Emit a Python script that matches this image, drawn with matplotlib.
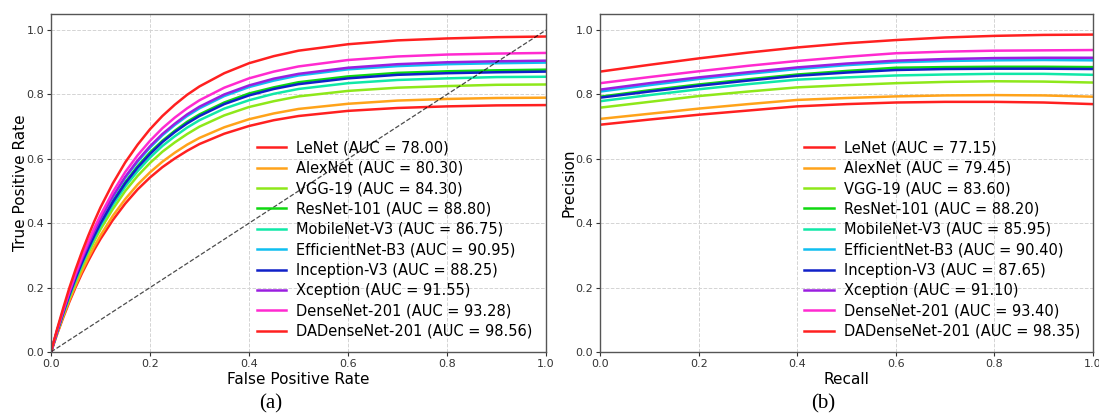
import matplotlib
matplotlib.use("Agg")
import matplotlib.pyplot as plt

models = ["LeNet", "AlexNet", "VGG-19", "ResNet-101", "MobileNet-V3",
          "EfficientNet-B3", "Inception-V3", "Xception", "DenseNet-201",
          "DADenseNet-201"]
roc_auc = ["78.00", "80.30", "84.30", "88.80", "86.75", "90.95", "88.25",
           "91.55", "93.28", "98.56"]
pr_auc = ["77.15", "79.45", "83.60", "88.20", "85.95", "90.40", "87.65",
          "91.10", "93.40", "98.35"]
colors = ["#ff2020", "#ffa31a", "#8ee81a", "#10d810", "#10e8a8",
          "#10bff0", "#1020c8", "#9a1ee0", "#ff2ad0", "#ff2020"]

# ROC curves
fpr = [0, .0125, .025, .0375, .05, .0625, .075, .0875, .1, .125, .15, .175,
       .2, .225, .25, .275, .3, .35, .4, .45, .5, .6, .7, .8, .9, 1.0]
tpr = [
    [0, .056, .108, .157, .202, .244, .282, .318, .351, .410, .461, .505, .542,
     .574, .601, .625, .646, .678, .702, .720, .733, .749, .758, .763, .766, .767],
    [0, .058, .112, .162, .208, .251, .291, .328, .362, .423, .475, .520, .558,
     .591, .619, .644, .665, .698, .723, .741, .755, .771, .781, .786, .789, .790],
    [0, .061, .117, .170, .219, .264, .306, .345, .381, .444, .500, .547, .587,
     .622, .651, .677, .700, .735, .761, .779, .794, .811, .821, .826, .830, .831],
    [0, .065, .124, .180, .231, .279, .323, .364, .402, .469, .527, .577, .620,
     .656, .687, .715, .738, .775, .803, .822, .838, .856, .867, .872, .875, .877],
    [0, .063, .121, .175, .225, .272, .315, .354, .392, .457, .514, .562, .604,
     .640, .670, .697, .720, .756, .782, .802, .817, .835, .845, .850, .854, .855],
    [0, .066, .127, .184, .237, .286, .331, .373, .412, .481, .541, .591, .635,
     .673, .705, .733, .757, .795, .823, .843, .859, .878, .888, .894, .897, .899],
    [0, .064, .123, .179, .230, .277, .320, .361, .399, .466, .524, .573, .615,
     .652, .683, .710, .733, .770, .797, .817, .832, .850, .861, .866, .869, .871],
    [0, .067, .128, .185, .239, .288, .333, .375, .414, .484, .544, .595, .639,
     .677, .709, .738, .762, .800, .828, .849, .864, .883, .894, .900, .903, .905],
    [0, .068, .131, .190, .245, .295, .342, .385, .425, .497, .559, .611, .656,
     .695, .728, .757, .782, .821, .850, .871, .887, .907, .918, .924, .927, .929],
    [0, .072, .138, .201, .258, .311, .360, .406, .449, .524, .589, .644, .692,
     .733, .768, .799, .825, .866, .897, .919, .936, .956, .968, .974, .978, .980],
]

# precision-recall curves
recall = [0, 0.1, 0.2, 0.3, 0.4, 0.5, 0.6, 0.7, 0.8, 0.9, 1.0]
precision = [
    [.706, .722, .737, .750, .763, .770, .775, .777, .777, .775, .770],
    [.724, .740, .756, .770, .783, .789, .794, .797, .798, .797, .793],
    [.759, .777, .795, .809, .822, .829, .835, .839, .841, .840, .837],
    [.793, .813, .831, .847, .862, .873, .883, .885, .886, .886, .885],
    [.779, .798, .816, .832, .846, .853, .859, .862, .864, .864, .861],
    [.809, .829, .848, .864, .879, .891, .900, .904, .906, .907, .906],
    [.790, .809, .827, .843, .858, .868, .876, .879, .880, .880, .879],
    [.815, .835, .853, .869, .884, .896, .905, .910, .913, .914, .914],
    [.835, .854, .872, .889, .904, .917, .928, .933, .936, .937, .938],
    [.871, .892, .912, .930, .946, .959, .969, .977, .982, .985, .986],
]

fig = plt.figure(figsize=(10.99, 4.2), dpi=100)
ax1 = fig.add_axes([0.0464, 0.162, 0.4504, 0.8047])
ax2 = fig.add_axes([0.546, 0.162, 0.4485, 0.8047])


def style(ax, xlabel, ylabel):
    ax.set_xlim(0, 1)
    ax.set_ylim(0, 1.05)
    ax.set_xticks([0, 0.2, 0.4, 0.6, 0.8, 1.0])
    ax.set_yticks([0, 0.2, 0.4, 0.6, 0.8, 1.0])
    ax.tick_params(labelsize=8, colors="#333333", length=3, width=0.8, pad=2)
    ax.grid(True, linestyle="--", linewidth=0.7, color="#d4d4d4")
    for s in ax.spines.values():
        s.set_color("#555555")
        s.set_linewidth(1.0)
    ax.set_xlabel(xlabel, fontsize=11, labelpad=2)
    ax.set_ylabel(ylabel, fontsize=11, labelpad=-1)
    ax.legend(loc="lower right", fontsize=10.5, frameon=False,
              labelspacing=0.37, handlelength=2.0, handletextpad=0.69,
              borderaxespad=0.5)


for i, name in enumerate(models):
    ax1.plot(fpr, tpr[i], color=colors[i], lw=1.8,
             label=f"{name} (AUC = {roc_auc[i]})")
ax1.plot([0, 1], [0, 1], "k--", lw=0.9, alpha=0.7)
style(ax1, "False Positive Rate", "True Positive Rate")

for i, name in enumerate(models):
    ax2.plot(recall, precision[i], color=colors[i], lw=1.8,
             label=f"{name} (AUC = {pr_auc[i]})")
style(ax2, "Recall", "Precision")

fig.text(0.2466, 0.028, "(a)", family="Liberation Serif", fontsize=15, ha="center")
fig.text(0.749, 0.028, "(b)", family="Liberation Serif", fontsize=15, ha="center")

fig.savefig("out.png", dpi=100)
